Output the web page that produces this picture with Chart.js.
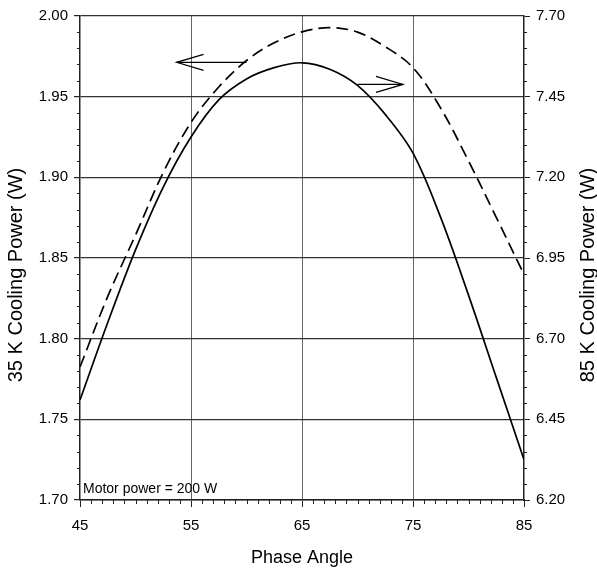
<!DOCTYPE html>
<html>
<head>
<meta charset="utf-8">
<script src="https://cdn.jsdelivr.net/npm/chart.js@4.4.1/dist/chart.umd.min.js"></script>
<style>
html,body{margin:0;padding:0;background:#fff;}
#wrap{width:597px;height:570px;position:relative;}
</style>
</head>
<body>
<div id="wrap"><canvas id="c" width="597" height="570"></canvas></div>
<script>
// ---- data ----
const phaseAngles = [45, 47.5, 50, 52.5, 55, 57.5, 60, 62.5, 65, 67.5, 70, 72.5, 75, 77.5, 80, 82.5, 85];
const power35K = [1.762, 1.810, 1.855, 1.894, 1.925, 1.948, 1.961, 1.968, 1.971, 1.967, 1.957, 1.939, 1.915, 1.875, 1.827, 1.776, 1.725];
const power85K = [6.612, 6.831, 7.021, 7.215, 7.370, 7.480, 7.562, 7.617, 7.651, 7.664, 7.650, 7.605, 7.540, 7.414, 7.251, 7.076, 6.899];
const xTickLabels = [45, 55, 65, 75, 85];
const leftTickLabels = [1.70, 1.75, 1.80, 1.85, 1.90, 1.95, 2.00];
const rightTickLabels = [6.20, 6.45, 6.70, 6.95, 7.20, 7.45, 7.70];
const xTitle = 'Phase Angle';
const leftTitle = '35 K Cooling Power (W)';
const rightTitle = '85 K Cooling Power (W)';
const noteText = 'Motor power = 200 W';
// annotation arrows (data coordinates)
const arrowLeft = {from: 60.0, to: 53.7, y: 1.9713, axis: 'y'};
const arrowRight = {from: 70.0, to: 74.1, y: 7.488, axis: 'y2'};

const FONT = '"Liberation Sans", Arial, sans-serif';

const overlay = {
  id: 'overlay',
  afterDraw(chart) {
    const ctx = chart.ctx;
    const xs = chart.scales.x, yl = chart.scales.y, yr = chart.scales.y2;
    const ca = chart.chartArea;
    ctx.save();
    ctx.strokeStyle = '#222';
    ctx.lineWidth = 1;
    // minor ticks
    for (let v = 45; v <= 85; v++) {
      if ((v - 45) % 10 === 0) continue;
      const px = Math.round(xs.getPixelForValue(v)) + 0.5;
      ctx.beginPath(); ctx.moveTo(px, ca.bottom); ctx.lineTo(px, ca.bottom + 4); ctx.stroke();
    }
    for (let i = 0; i <= 30; i++) {
      if (i % 5 === 0) continue;
      const v = 1.70 + i * 0.01;
      const py = Math.round(yl.getPixelForValue(v)) + 0.5;
      ctx.beginPath(); ctx.moveTo(ca.left - 3, py); ctx.lineTo(ca.left, py); ctx.stroke();
      const v2 = 6.20 + i * 0.05;
      const py2 = Math.round(yr.getPixelForValue(v2)) + 0.5;
      ctx.beginPath(); ctx.moveTo(ca.right, py2); ctx.lineTo(ca.right + 3, py2); ctx.stroke();
    }
    // arrows
    ctx.strokeStyle = '#000';
    ctx.lineWidth = 1.2;
    function arrow(a) {
      const sy = chart.scales[a.axis];
      const y = sy.getPixelForValue(a.y);
      const x0 = xs.getPixelForValue(a.from), x1 = xs.getPixelForValue(a.to);
      const dir = x1 > x0 ? 1 : -1;
      ctx.beginPath(); ctx.moveTo(x0, y); ctx.lineTo(x1, y); ctx.stroke();
      ctx.beginPath();
      ctx.moveTo(x1 - dir * 27, y - 8); ctx.lineTo(x1, y); ctx.lineTo(x1 - dir * 27, y + 8);
      ctx.stroke();
    }
    arrow(arrowLeft); arrow(arrowRight);
    // texts
    ctx.fillStyle = '#000';
    ctx.font = '14px ' + FONT;
    ctx.textAlign = 'left'; ctx.textBaseline = 'alphabetic';
    ctx.fillText(noteText, ca.left + 3, ca.bottom - 7);
    ctx.font = '18px ' + FONT;
    ctx.textAlign = 'center'; ctx.textBaseline = 'middle';
    ctx.fillText(xTitle, (ca.left + ca.right) / 2, 558);
    ctx.font = '20px ' + FONT;
    ctx.save(); ctx.translate(16, (ca.top + ca.bottom) / 2 + 17); ctx.rotate(-Math.PI / 2);
    ctx.fillText(leftTitle, 0, 0); ctx.restore();
    ctx.save(); ctx.translate(588, (ca.top + ca.bottom) / 2 + 17); ctx.rotate(-Math.PI / 2);
    ctx.fillText(rightTitle, 0, 0); ctx.restore();
    ctx.restore();
  }
};

new Chart(document.getElementById('c'), {
  type: 'line',
  data: {
    datasets: [
      {
        label: '35 K',
        data: phaseAngles.map((x, i) => ({x, y: power35K[i]})),
        yAxisID: 'y',
        borderColor: '#000', borderWidth: 1.7,
        pointRadius: 0, tension: 0.35, fill: false
      },
      {
        label: '85 K',
        data: phaseAngles.map((x, i) => ({x, y: power85K[i]})),
        yAxisID: 'y2',
        borderColor: '#000', borderWidth: 1.7, borderDash: [12, 6],
        pointRadius: 0, tension: 0.35, fill: false
      }
    ]
  },
  options: {
    responsive: false,
    animation: false,
    layout: {padding: {top: 16, left: 0, right: 0, bottom: 0}},
    plugins: {legend: {display: false}, tooltip: {enabled: false}},
    scales: {
      x: {
        type: 'linear', min: 45, max: 85,
        afterBuildTicks: s => { s.ticks = xTickLabels.map(v => ({value: v})); },
        afterFit: s => { s.height = 70; },
        ticks: {color: '#000', font: {family: FONT, size: 15}, padding: 10, maxRotation: 0,
                callback: v => String(v)},
        grid: {
          color: c => (c.tick && (c.tick.value === 45 || c.tick.value === 85)) ? 'rgba(0,0,0,0)' : '#666',
          lineWidth: 1, tickColor: '#222', tickLength: 7, drawTicks: true
        },
        border: {display: true, color: '#222', width: 1.5}
      },
      y: {
        type: 'linear', position: 'left', min: 1.70, max: 2.00,
        afterBuildTicks: s => { s.ticks = leftTickLabels.map(v => ({value: v})); },
        afterFit: s => { s.width = 80; },
        ticks: {color: '#000', font: {family: FONT, size: 15}, padding: 6,
                callback: v => Number(v).toFixed(2)},
        grid: {color: '#333', lineWidth: 1.2, tickColor: '#222', tickLength: 6},
        border: {display: true, color: '#222', width: 1.5}
      },
      y2: {
        type: 'linear', position: 'right', min: 6.20, max: 7.70,
        afterBuildTicks: s => { s.ticks = rightTickLabels.map(v => ({value: v})); },
        afterFit: s => { s.width = 73; },
        ticks: {color: '#000', font: {family: FONT, size: 15}, padding: 6,
                callback: v => Number(v).toFixed(2)},
        grid: {drawOnChartArea: false, tickColor: '#222', tickLength: 6},
        border: {display: true, color: '#222', width: 1.5}
      }
    }
  },
  plugins: [overlay]
});
</script>
</body>
</html>
